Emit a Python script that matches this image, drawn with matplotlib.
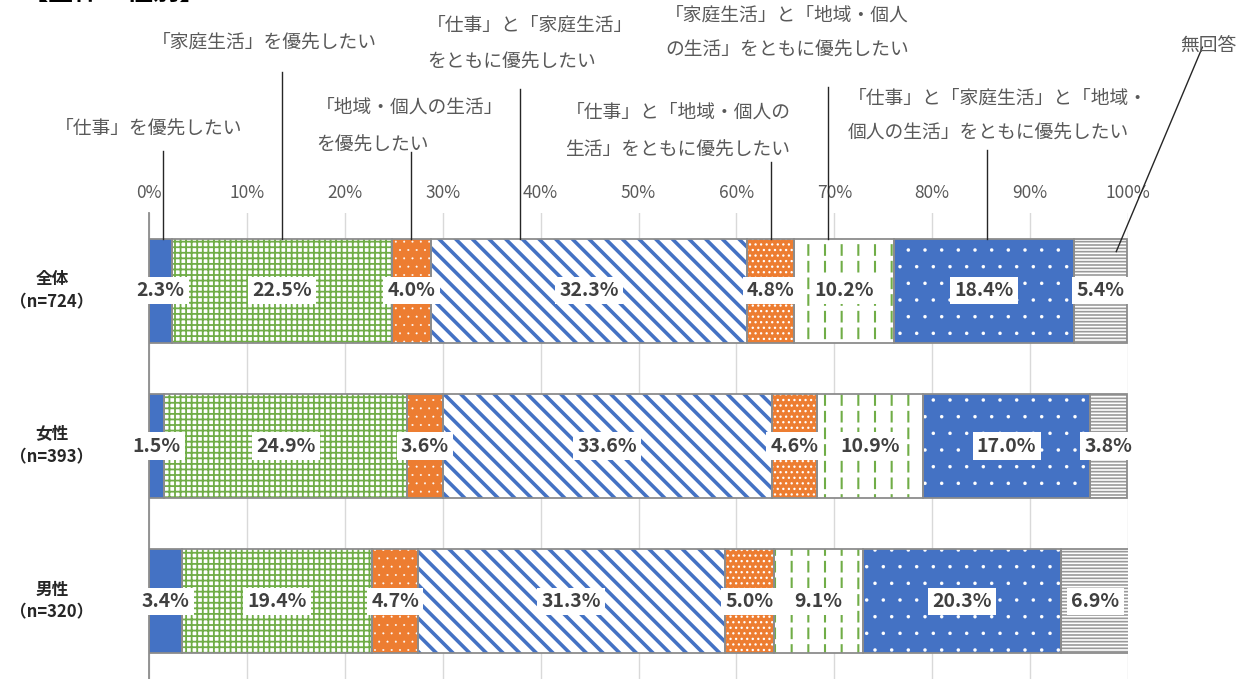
import numpy as np
import matplotlib
matplotlib.use('Agg')
import matplotlib.pyplot as plt

plt.rcParams['font.family'] = ['Noto Sans CJK JP', 'DejaVu Sans']

#
# データ
#
groups = ['全体\n（n=724）', '女性\n（n=393）', '男性\n（n=320）']
work = [2.3, 1.5, 3.4]
family = [22.5, 24.9, 19.4]
community = [4.0, 3.6, 4.7]
work_family = [32.3, 33.6, 31.3]
work_community = [4.8, 4.6, 5.0]
family_community = [10.2, 10.9, 9.1]
all_three = [18.4, 17.0, 20.3]
no_answer = [5.4, 3.8, 6.9]
series = [work, family, community, work_family,
          work_community, family_community, all_three, no_answer]

xticks = [0, 10, 20, 30, 40, 50, 60, 70, 80, 90, 100]

#
# 見た目 (塗り, 模様の色, 模様, 模様の線幅)
#
styles = [
    ('#4472C4', '#4472C4', '', 1.0),
    ('white', '#70AD47', '+++', 1.3),
    ('#ED7D31', 'white', '..', 0.2),
    ('white', '#4472C4', '\\\\', 2.6),
    ('#ED7D31', 'white', '...', 0.9),
    ('white', '#70AD47', '|', 1.5),
    ('#4472C4', 'white', '.', 0.1),
    ('white', '#9A9A9A', '-----', 1.2),
]
# 縦線を破線にするための白い横縞 (家庭生活+地域)
dash_cut = 5

# 吹き出しラベル: (行, x[px], y[px], 揃え)
callouts = [
    (['「仕事」を優先したい'], 149, [128], 'center'),
    (['「家庭生活」を優先したい'], 264, [42], 'center'),
    (['「地域・個人の生活」', 'を優先したい'], 316, [107, 145], 'left'),
    (['「仕事」と「家庭生活」', 'をともに優先したい'], 427, [25, 62], 'left'),
    (['「仕事」と「地域・個人の', '生活」をともに優先したい'], 678, [112, 150], 'center'),
    (['「家庭生活」と「地域・個人', 'の生活」をともに優先したい'], 787, [15, 50], 'center'),
    (['「仕事」と「家庭生活」と「地域・', '個人の生活」をともに優先したい'], 848, [98, 133], 'left'),
    (['無回答'], 1208, [45], 'center'),
]
# 引き出し線: (下端x[%], 下端y[px], 上端x[%], 上端y[px])
leaders = [
    (1.4, 239, 1.4, 152),
    (13.6, 239, 13.6, 73),
    (26.8, 239, 26.8, 153),
    (37.9, 239, 37.9, 90),
    (63.5, 239, 63.5, 163),
    (69.4, 239, 69.4, 88),
    (85.6, 239, 85.6, 151),
    (98.8, 252, 107.6, 48),
]

W, H = 1249, 679
fig = plt.figure(figsize=(W / 100, H / 100), dpi=100)
ax = fig.add_axes([149 / W, 0, 979 / W, 1 - 213 / H])

y = np.arange(len(groups))
bar_h = 0.67


def py2y(py):
    return (py - 291) / 155.0


def hatched_bars(vals, left, face, hcol, hatch, hlw, z):
    with plt.rc_context({'hatch.linewidth': hlw}):
        bars = ax.barh(y, vals, left=left, height=bar_h, color=face,
                       edgecolor=hcol, linewidth=0, hatch=hatch, zorder=z)
    for b in bars:
        if hasattr(b, 'set_hatch_linewidth'):
            b.set_hatch_linewidth(hlw)
    return bars


left = np.zeros(len(groups))
for k, (vals, (face, hcol, hatch, hlw)) in enumerate(zip(series, styles)):
    vals = np.array(vals)
    hatched_bars(vals, left, face, hcol, hatch, hlw, 2)
    if k == dash_cut:
        hatched_bars(vals, left, 'none', 'white', '-', 3.6, 2.5)
    ax.barh(y, vals, left=left, height=bar_h, fill=False,
            edgecolor='#8C8C8C', linewidth=1.3, zorder=3)
    for yi, (l, v) in enumerate(zip(left, vals)):
        ax.text(l + v / 2, yi, '%.1f%%' % v, ha='center', va='center',
                fontsize=14, fontweight='bold', color='#404040', zorder=5,
                bbox=dict(boxstyle='square,pad=0.22', fc='white', ec='none'))
    left = left + vals

ax.set_xlim(0, 100)
ax.set_ylim(len(groups) - 0.5, -0.5)
ax.set_xticks(xticks)
ax.set_xticklabels(['%d%%' % t for t in xticks], fontsize=12.5, color='#595959')
ax.xaxis.tick_top()
ax.tick_params(axis='x', length=0, pad=8)
ax.set_yticks([])
for yi, g in enumerate(groups):
    ax.text(-97 / 979, yi, g, transform=ax.get_yaxis_transform(),
            ha='center', va='center', fontsize=12, fontweight='bold',
            color='#262626', linespacing=1.35)
ax.grid(axis='x', color='#D9D9D9', linewidth=1)
ax.set_axisbelow(True)
for s in ['top', 'right', 'bottom']:
    ax.spines[s].set_visible(False)
ax.spines['left'].set_color('#8C8C8C')
ax.spines['left'].set_linewidth(1.3)
ax.spines['left'].set_zorder(4)

# 引き出し線
for x0, y0, x1, y1 in leaders:
    ax.plot([x0, x1], [py2y(y0), py2y(y1)], color='#262626', lw=1.0,
            clip_on=False, zorder=6)

# 吹き出しラベル
for lines, px, pys, ha in callouts:
    for line, py in zip(lines, pys):
        fig.text(px / W, 1 - py / H, line, ha=ha, va='center',
                 fontsize=13.5, color='#595959')

# タイトル (上端で切れている)
fig.text(22 / W, 1 - 6 / H, '【全体・性別】', ha='left', va='bottom',
         fontsize=19, fontweight='bold', color='black')

fig.savefig('out.png', dpi=100)
